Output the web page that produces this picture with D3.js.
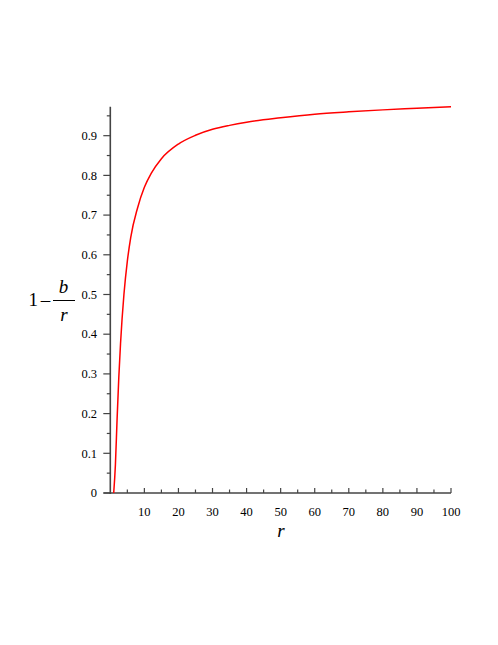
<!DOCTYPE html>
<html>
<head>
<meta charset="utf-8">
<script src="https://cdn.jsdelivr.net/npm/d3@7"></script>
<style>
  html, body { margin: 0; padding: 0; background: #fff; }
  svg { display: block; }
</style>
</head>
<body>
<script>
// Values
const rValues = [1, 1.5, 2, 2.5, 3, 4, 5, 6, 8, 10, 12, 15, 20, 25, 30, 35, 40, 50, 60, 70, 80, 90, 100];
const yValues = [0, 0.071, 0.188, 0.292, 0.376, 0.500, 0.584, 0.644, 0.718, 0.770, 0.805, 0.842, 0.879, 0.901, 0.916, 0.926, 0.934, 0.945, 0.954, 0.960, 0.965, 0.969, 0.973];
const xTickLabels = [10, 20, 30, 40, 50, 60, 70, 80, 90, 100];
const yTickLabels = [0, 0.1, 0.2, 0.3, 0.4, 0.5, 0.6, 0.7, 0.8, 0.9];

const W = 498, H = 645;
const FONT = "'Liberation Serif', 'Times New Roman', Times, 'DejaVu Serif', serif";
const svg = d3.select("body").append("svg").attr("width", W).attr("height", H)
  .attr("font-family", FONT).style("font-family", FONT);

const x = d3.scaleLinear().domain([0, 100]).range([110.3, 451]);
const y = d3.scaleLinear().domain([0, d3.max(yValues)]).range([493, 106.7]);

const axisColor = "#444";

// x axis line (extends a bit left of the y-axis)
svg.append("line").attr("x1", x(-2)).attr("x2", x(100)).attr("y1", y(0)).attr("y2", y(0))
  .attr("stroke", axisColor).attr("stroke-width", 1.6);
// y axis line
svg.append("line").attr("x1", x(0)).attr("x2", x(0)).attr("y1", y(0) + 1).attr("y2", y.range()[1])
  .attr("stroke", axisColor).attr("stroke-width", 1.6);

// x ticks (upward)
const xMinor = d3.range(5, 101, 5);
svg.append("g").selectAll("line").data(xMinor).join("line")
  .attr("x1", d => x(d)).attr("x2", d => x(d))
  .attr("y1", y(0)).attr("y2", d => y(0) - (d % 10 === 0 ? 5 : 3.5))
  .attr("stroke", axisColor).attr("stroke-width", 1.2);
svg.append("g").selectAll("text").data(xTickLabels).join("text")
  .attr("x", d => x(d)).attr("y", 515.5)
  .attr("text-anchor", "middle").attr("font-size", 12.5).attr("fill", "#000")
  .text(d => d);

// y ticks (leftward)
const yMinor = d3.range(0, 20).map(i => i * 0.05);
svg.append("g").selectAll("line").data(yMinor).join("line")
  .attr("x1", x(0)).attr("x2", d => x(0) - (Math.round(d * 100) % 10 === 0 ? 7 : 3.5))
  .attr("y1", d => y(d)).attr("y2", d => y(d))
  .attr("stroke", axisColor).attr("stroke-width", 1.2);
svg.append("g").selectAll("text").data(yTickLabels).join("text")
  .attr("x", 97).attr("y", d => y(d) + 4.3)
  .attr("text-anchor", "end").attr("font-size", 12.5).attr("fill", "#000")
  .text(d => d === 0 ? "0" : d.toString());

// curve
const line = d3.line().x((d, i) => x(rValues[i])).y((d, i) => y(yValues[i])).curve(d3.curveMonotoneX);
svg.append("path").datum(yValues).attr("d", line)
  .attr("fill", "none").attr("stroke", "#ff0000").attr("stroke-width", 1.5);

// x label
svg.append("text").attr("x", 281).attr("y", 537).attr("text-anchor", "middle")
  .attr("font-size", 19).attr("font-style", "italic").text("r");

// y label: 1 - b/r
const yl = svg.append("g");
yl.append("text").attr("x", 28.5).attr("y", 306).attr("font-size", 19).text("1");
yl.append("text").attr("x", 45.5).attr("y", 306).attr("font-size", 19).attr("text-anchor", "middle").text("\u2013");
yl.append("text").attr("x", 63.5).attr("y", 293).attr("font-size", 19).attr("font-style", "italic")
  .attr("text-anchor", "middle").text("b");
yl.append("line").attr("x1", 53).attr("x2", 75).attr("y1", 300.5).attr("y2", 300.5)
  .attr("stroke", "#000").attr("stroke-width", 1);
yl.append("text").attr("x", 64).attr("y", 321).attr("font-size", 19).attr("font-style", "italic")
  .attr("text-anchor", "middle").text("r");
</script>
</body>
</html>
